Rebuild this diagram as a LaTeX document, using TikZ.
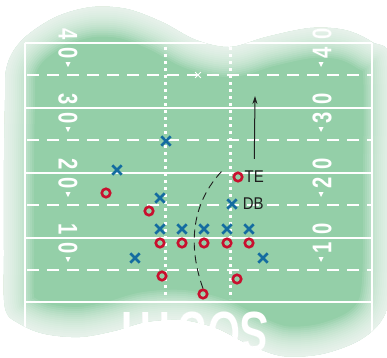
\documentclass[tikz,border=0pt]{standalone}
\usepackage{fontspec}
\setmainfont{Liberation Sans}
\usetikzlibrary{shapes.misc,arrows.meta,positioning}
\definecolor{fgreen}{RGB}{148,207,168}
\definecolor{fred}{RGB}{200,16,46}
\definecolor{fblue}{RGB}{20,108,160}
\definecolor{fink}{HTML}{1E1E1E}
\newcommand\fieldblob{plot[smooth cycle, tension=.55] coordinates {
  (6,70) (14,50) (30,33) (58,16) (92,7) (127,9) (162,22) (196,40) (230,47)
  (266,37) (310,28) (345,30) (372,42) (392,62) (393,180) (392,282)
  (383,318) (360,340) (322,354) (282,356) (248,344) (216,328) (182,320)
  (146,322) (114,331) (80,337) (45,334) (20,324) (5,308) (4,250) (4,160) (5,100)}}
\tikzset{
  yardline/.style={white, line width=2.2pt},
  fiveline/.style={white, line width=2pt, dash pattern=on 12pt off 8pt},
  hashline/.style={white, line width=3pt, dash pattern=on 3pt off 4pt},
  yardnum/.style={white, inner sep=0pt, font=\fontsize{27}{27}\selectfont\bfseries},
  leftnum/.style={yardnum, rotate=-90, xscale=.75},
  rightnum/.style={yardnum, rotate=90, xscale=.75},
  offense/.style={circle, draw=fred, line width=2.6pt, minimum size=8.5pt, inner sep=0pt},
  defense/.style={cross out, draw=fblue, line width=2.8pt, minimum size=6.5pt, inner sep=0pt},
  tag/.style={fink, inner sep=0pt, font=\fontsize{17}{17}\selectfont, xscale=.88},
  route/.style={fink, line width=0.9pt, dash pattern=on 8pt off 5pt},
  runarrow/.style={fink, line width=1pt, -{Stealth[length=8pt, width=5pt]}},
  glow/.style={white, opacity=.1},
}
\begin{document}
\begin{tikzpicture}[x=1pt, y=-1pt]
\useasboundingbox (0,0) rectangle (387,357);
\fill[white] (0,0) rectangle (387,357);
\begin{scope}
\clip \fieldblob;
\fill[fgreen] (0,0) rectangle (387,357);

% field markings
\draw[yardline] (25,43) -- (25,357);
\draw[yardline] (372,43) -- (372,357);
\foreach \y in {43,108,173,238,302}
  \draw[yardline] (25,\y) -- (372,\y);
\foreach \y in {75,140,205,270}
  \draw[fiveline] (27,\y) -- (372,\y);
\foreach \x in {165,230}
  \draw[hashline] (\x,47) -- (\x,299);
\foreach \n/\y in {4/43,3/108,2/173,1/238} {
  \node[leftnum] at (68,\y+1) {\n\hspace{10pt}0};
  \node[rightnum] at (322,\y) {\n\hspace{10pt}0};
  \fill[white] (65.5,\y+19) -- (70.5,\y+19) -- (68,\y+24) -- cycle;
  \fill[white] (318.5,\y+19) -- (323.5,\y+19) -- (321,\y+24) -- cycle;
}
\node[white, inner sep=0pt, font=\fontsize{57}{57}\selectfont\bfseries, rotate=180, xscale=.735] (endzone) at (195,332) {SOUTH};
\node[cross out, draw=white, line width=0.8pt, minimum size=5pt, inner sep=0pt] (spot) at (198,75) {};

% soft white rim
\foreach \w in {4,8,...,60}
  \draw[glow, line width=\w pt] \fieldblob;
\end{scope}

% defense
\node[defense] (d1) at (166,141) {};
\node[defense] (d2) at (117,170) {};
\node[defense] (d3) at (160,198) {};
\node[defense] (db) at (232,204) {};
\node[defense] (d5) at (160,229) {};
\node[defense] (d6) at (182,229) {};
\node[defense] (d7) at (204,229) {};
\node[defense] (d8) at (227,229) {};
\node[defense] (d9) at (249,229) {};
\node[defense] (d10) at (135,258) {};
\node[defense] (d11) at (263,258) {};

% offense
\node[offense] (te) at (238,177) {};
\node[offense] (o2) at (106,193) {};
\node[offense] (o3) at (149,211) {};
\node[offense] (o4) at (160,243) {};
\node[offense] (o5) at (182,243) {};
\node[offense] (o6) at (204,243) {};
\node[offense] (o7) at (227,243) {};
\node[offense] (o8) at (249,243) {};
\node[offense] (o9) at (162,276) {};
\node[offense] (o10) at (237,279) {};
\node[offense] (back) at (203,294) {};

\node[tag, right=1pt of te] (telabel) {TE};
\node[tag, right=6pt of db] (dblabel) {DB};

% routes
\coordinate (deep) at (255,96);
\coordinate (routeend) at (222,171);
\draw[runarrow] ([yshift=12pt]telabel.north) -- (deep);
\draw[route] (back.north) .. controls (192,258) and (185,210) .. (routeend);
\end{tikzpicture}
\end{document}
